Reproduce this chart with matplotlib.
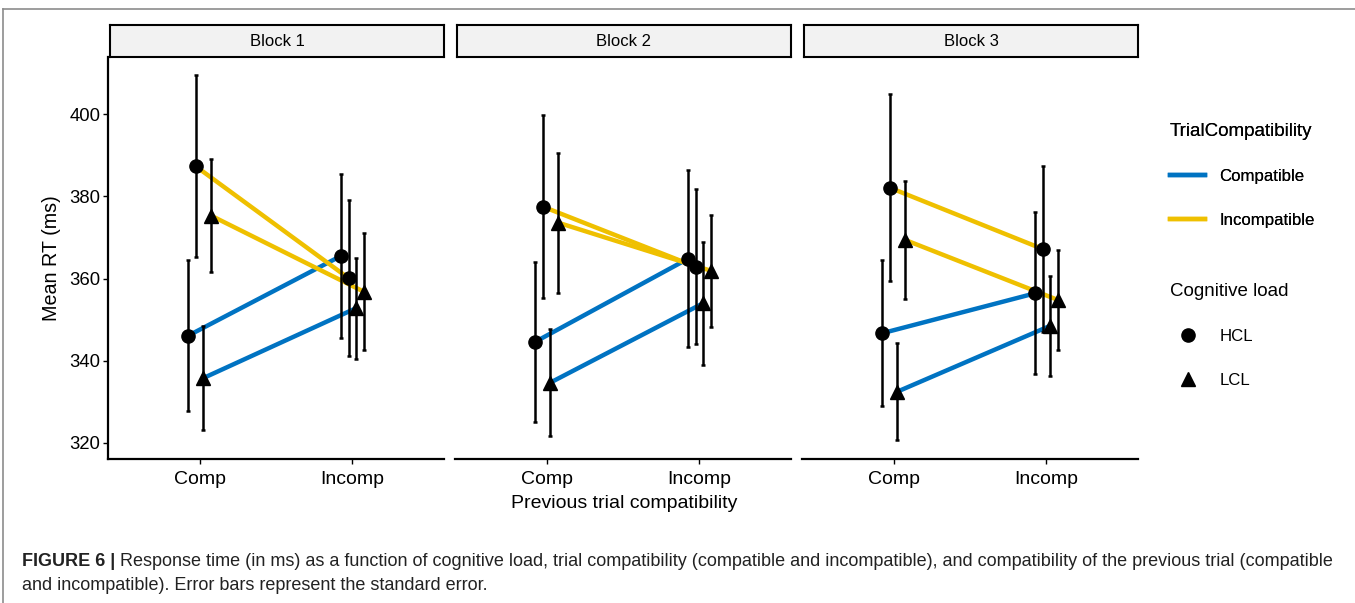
import matplotlib
matplotlib.use("Agg")
import matplotlib.pyplot as plt
from matplotlib.lines import Line2D

plt.rcParams["font.family"] = ["Liberation Sans", "DejaVu Sans"]

blocks = ["Block 1", "Block 2", "Block 3"]
prev_trial = ["Comp", "Incomp"]
trial_levels = ["Compatible", "Incompatible"]
load_levels = ["HCL", "LCL"]
y_ticks = [320, 340, 360, 380, 400]

# mean RT (ms), one row per block, columns = previous trial [Comp, Incomp]
hcl_compatible = [[346.1, 365.5], [344.6, 364.8], [346.7, 356.4]]
hcl_incompatible = [[387.3, 360.1], [377.5, 362.9], [382.1, 367.2]]
lcl_compatible = [[335.8, 352.8], [334.7, 354.0], [332.5, 348.5]]
lcl_incompatible = [[375.3, 356.8], [373.6, 361.9], [369.4, 354.8]]

# standard errors, same layout
hcl_compatible_se = [[18.3, 20.0], [19.4, 21.5], [17.7, 19.7]]
hcl_incompatible_se = [[22.1, 19.0], [22.3, 18.8], [22.8, 20.2]]
lcl_compatible_se = [[12.7, 12.3], [13.0, 15.0], [11.8, 12.1]]
lcl_incompatible_se = [[13.7, 14.3], [17.0, 13.6], [14.3, 12.2]]

BLUE = "#0073C2"
YELLOW = "#EFC000"

groups = [
    (hcl_compatible, hcl_compatible_se, BLUE, "o", -0.075),
    (hcl_incompatible, hcl_incompatible_se, YELLOW, "o", -0.025),
    (lcl_compatible, lcl_compatible_se, BLUE, "^", 0.025),
    (lcl_incompatible, lcl_incompatible_se, YELLOW, "^", 0.075),
]

W, H = 1355, 603
fig = plt.figure(figsize=(W / 100, H / 100), dpi=100)


def px_axes(x0, y0, x1, y1):
    return fig.add_axes([x0 / W, 1 - y1 / H, (x1 - x0) / W, (y1 - y0) / H])


panel_left = [108, 455, 802]
panel_w = 336

for b, block in enumerate(blocks):
    x0 = panel_left[b]
    ax = px_axes(x0, 57, x0 + panel_w, 459)
    ax.set_xlim(0.4, 2.6)
    ax.set_ylim(316.1, 413.9)
    for s in ["top", "right"]:
        ax.spines[s].set_visible(False)
    ax.spines["bottom"].set_linewidth(1.6)
    ax.spines["left"].set_linewidth(1.6)
    ax.set_xticks([1, 2], prev_trial, fontsize=14)
    ax.set_yticks(y_ticks, [str(v) for v in y_ticks], fontsize=13.3)
    ax.tick_params(length=3.5, width=1, colors="black")
    ax.tick_params(axis="x", pad=5.5)
    ax.tick_params(axis="y", pad=2)
    if b > 0:
        ax.spines["left"].set_visible(False)
        ax.tick_params(axis="y", left=False, labelleft=False)
    else:
        ax.set_ylabel("Mean RT (ms)", fontsize=14.2)
        ax.yaxis.set_label_coords(-0.14, 0.5)

    for means, ses, color, marker, off in groups:
        xs = [1 + off, 2 + off]
        ys = means[b]
        ax.plot(xs, ys, color=color, lw=3.2, zorder=2, solid_capstyle="butt")
        ax.errorbar(xs, ys, yerr=ses[b], fmt="none", ecolor="black",
                    elinewidth=1.8, capsize=1.5, capthick=1.8, zorder=3)
        ax.plot(xs, ys, ls="none", marker=marker, color="black",
                ms=10 if marker == "^" else 9.5, zorder=4)

    # facet strip
    sax = px_axes(x0 + 2, 25, x0 + panel_w, 57)
    sax.set_facecolor("#F2F2F2")
    sax.set_xticks([])
    sax.set_yticks([])
    for s in sax.spines.values():
        s.set_linewidth(1.5)
    sax.text(0.5, 0.5, block, ha="center", va="center", fontsize=12,
             transform=sax.transAxes)

fig.text(624 / W, 1 - 503 / H, "Previous trial compatibility",
         ha="center", va="center", fontsize=14)

# legends
leg_kw = dict(loc="upper left", frameon=False, fontsize=12.1,
              title_fontsize=13.5, handlelength=2.1, labelspacing=1.72,
              handletextpad=0.85, alignment="left", borderpad=0,
              borderaxespad=0)
line_handles = [Line2D([], [], color=c, lw=3.2) for c in (BLUE, YELLOW)]
leg1 = fig.legend(line_handles, trial_levels, title="TrialCompatibility",
                  bbox_to_anchor=(1170 / W, 1 - 123 / H), **leg_kw)
fig.add_artist(leg1)
marker_handles = [Line2D([], [], ls="none", marker=m, color="black", ms=9.5)
                  for m in ("o", "^")]
fig.legend(marker_handles, load_levels, title="Cognitive load",
           bbox_to_anchor=(1170 / W, 1 - 283 / H), **leg_kw)

# page frame
fig.add_artist(Line2D([3 / W, 1], [1 - 9 / H, 1 - 9 / H], color="#8c8c8c",
                      lw=1.2, transform=fig.transFigure))
fig.add_artist(Line2D([3 / W, 3 / W], [0, 1 - 9 / H], color="#8c8c8c",
                      lw=1.2, transform=fig.transFigure))

# caption, sized so the first line ends where the reference does
renderer = fig.canvas.get_renderer()
cap_line1 = ("Response time (in ms) as a function of cognitive load, trial compatibility "
             "(compatible and incompatible), and compatibility of the previous trial (compatible")
cap_line2 = "and incompatible). Error bars represent the standard error."
cap_size = 12.0
t = fig.text(22 / W, 1 - 561 / H, "FIGURE 6 |", fontsize=cap_size,
             fontweight="bold", va="center", color="#222222")
bb = t.get_window_extent(renderer)
r = fig.text((bb.x1 + 5) / W, 1 - 561 / H, cap_line1,
             fontsize=cap_size, va="center", color="#222222")
rb = r.get_window_extent(renderer)
scale = (1332 - 22) / (rb.x1 - 22)
cap_size *= scale
t.set_fontsize(cap_size)
bb = t.get_window_extent(renderer)
r.set_fontsize(cap_size)
r.set_x((bb.x1 + 5) / W)
fig.text(22 / W, 1 - 585 / H, cap_line2,
         fontsize=cap_size, va="center", color="#222222")

fig.savefig("out.png", dpi=100, facecolor="white")
